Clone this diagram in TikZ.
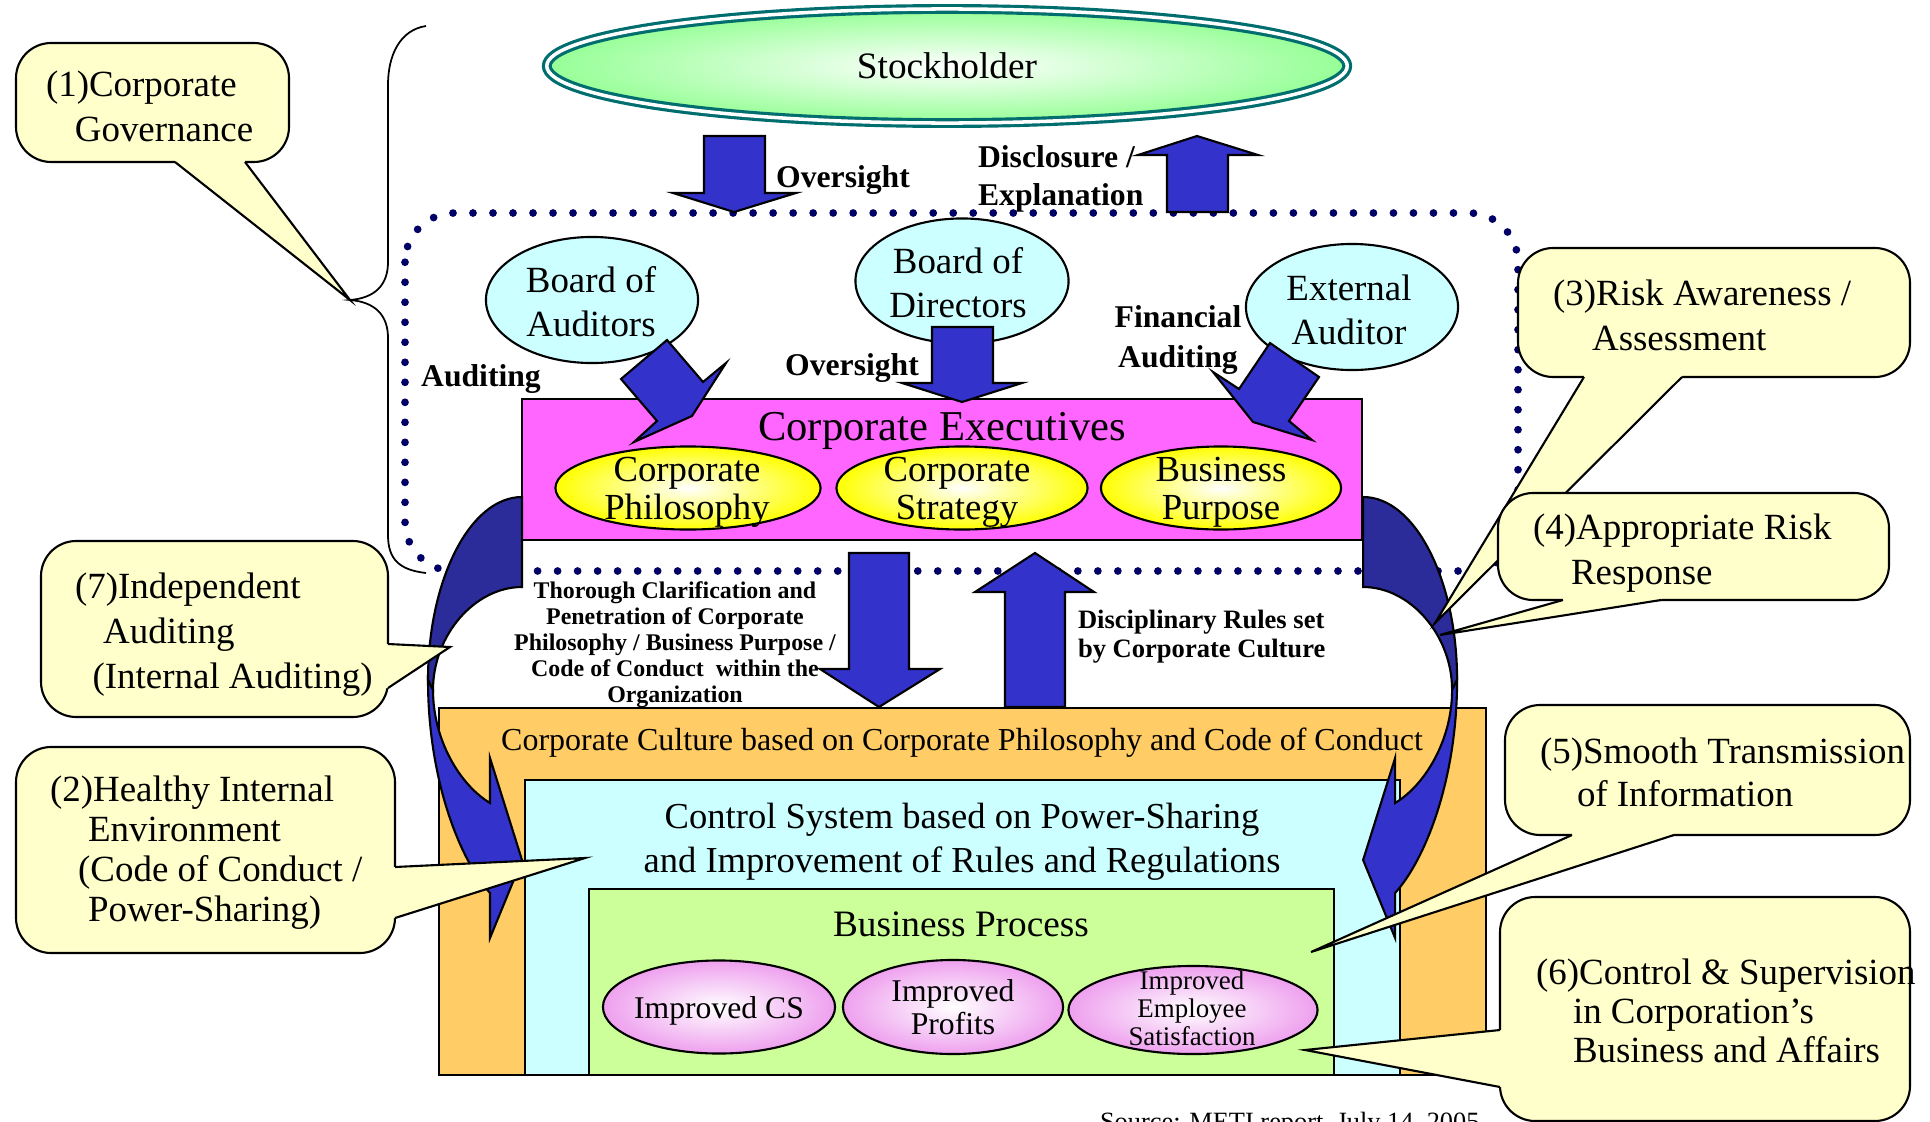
\documentclass[tikz,border=0pt]{standalone}
\usepackage{fontspec}
\setmainfont{Liberation Serif}
\usetikzlibrary{shapes.geometric}

\definecolor{arrblue}{RGB}{51,51,204}
\definecolor{arrdark}{RGB}{43,43,153}
\definecolor{dotnavy}{RGB}{0,0,102}
\definecolor{execpink}{RGB}{255,102,255}
\definecolor{cultorange}{RGB}{255,204,102}
\definecolor{ctrlcyan}{RGB}{204,255,255}
\definecolor{procgreen}{RGB}{204,255,153}
\definecolor{noteyellow}{RGB}{255,255,204}
\definecolor{stockgreen}{RGB}{150,255,150}
\definecolor{stockedge}{RGB}{0,110,110}
\definecolor{ellpink}{RGB}{238,160,238}

\begin{document}
\begin{tikzpicture}[x=0.01cm,y=-0.01cm,line width=0.6pt,
  blk/.style={fill=arrblue,draw=black},
  note/.style={fill=noteyellow,draw=black,rounded corners=10pt},
  notetxt/.style={anchor=west,inner sep=0,align=left,font=\fontsize{10.5}{#1}\selectfont},
  txt/.style={inner sep=0,align=center,font=\fontsize{10.5}{12.6}\selectfont},
  lbl/.style={inner sep=0,align=center,font=\bfseries\fontsize{9}{11.1}\selectfont},
  oval/.style={ellipse,draw=black,inner sep=0},
  dots/.style={draw=dotnavy,line width=2.2pt,line cap=round,dash pattern=on 0pt off 5.69pt}]
\useasboundingbox (0,0) rectangle (1930,1121);
\clip (0,0) rectangle (1930,1121);
% 大括号
\draw[line width=0.5pt] (426,26) .. controls (400,30) and (388,55) .. (388,85) -- (388,262)
  .. controls (388,285) and (375,298) .. (350,300) .. controls (375,302) and (388,315) .. (388,338)
  -- (388,535) .. controls (388,560) and (400,570) .. (426,573);
% 点线框
\draw[dots,rounded corners=14pt] (405,213) rectangle (1518,571);
% 股东
\node[oval,minimum width=8cm,minimum height=1.14cm,inner color=white,outer color=stockgreen,
  draw=stockedge,double=white,double distance=1pt,line width=0.9pt,
  font=\fontsize{10.6}{12}\selectfont] (stock) at (947,66) {Stockholder};
% 上方箭头
\draw[blk] (704,136) -- (765,136) -- (765,193) -- (796,193) -- (734,212) -- (673,193) -- (704,193) -- cycle;
\node[lbl] (ovTop) at (843,180) {Oversight};
\draw[blk] (1167,212) -- (1228,212) -- (1228,155) -- (1258,155) -- (1197,136) -- (1138,155) -- (1167,155) -- cycle;
\node[lbl,anchor=west,align=left,font=\bfseries\fontsize{9}{10.8}\selectfont] (discl) at (977,179) {Disclosure /\\Explanation};
% 三个机构
\node[oval,fill=ctrlcyan,minimum width=2.12cm,minimum height=1.26cm] (bAud) at (592,300) {};
\node[txt] (tAud) at (591,302) {Board of\\Auditors};
\node[oval,fill=ctrlcyan,minimum width=2.13cm,minimum height=1.25cm] (bDir) at (962,281) {};
\node[txt] (tDir) at (958,283) {Board of\\Directors};
\node[oval,fill=ctrlcyan,minimum width=2.12cm,minimum height=1.26cm] (bExt) at (1352,307) {};
\node[txt] (tExt) at (1349,310) {External\\Auditor};
% 经营者
\filldraw[fill=execpink] (522,399) rectangle (1362,540);
\node[inner sep=0,font=\fontsize{12.1}{14}\selectfont] (exec) at (942,431) {Corporate Executives};
\node[oval,inner color=white,outer color=yellow,minimum width=2.65cm,minimum height=0.83cm] (ePhil) at (688,488) {};
\node[txt,font=\fontsize{10.45}{10.8}\selectfont] (tPhil) at (687,492) {Corporate\\Philosophy};
\node[oval,inner color=white,outer color=yellow,minimum width=2.51cm,minimum height=0.83cm] (eStrat) at (962,488) {};
\node[txt,font=\fontsize{10.45}{10.8}\selectfont] (tStrat) at (957,492) {Corporate\\Strategy};
\node[oval,inner color=white,outer color=yellow,minimum width=2.4cm,minimum height=0.83cm] (ePurp) at (1221,488) {};
\node[txt,font=\fontsize{10.45}{10.8}\selectfont] (tPurp) at (1221,492) {Business\\Purpose};
% 监督箭头
\draw[blk] (667,340) -- (703,382) -- (726,363) -- (692,416) -- (634,442) -- (657,421) -- (621,379) -- cycle;
\draw[blk] (932,327) -- (993,327) -- (993,383) -- (1022,383) -- (962,402) -- (902,383) -- (932,383) -- cycle;
\draw[blk] (1270,343) -- (1319,377) -- (1289,421) -- (1312,440) -- (1253,422) -- (1213,372) -- (1239,389) -- cycle;
\node[lbl] (lAud) at (481,379) {Auditing};
\node[lbl] (lOv) at (852,368) {Oversight};
\node[lbl] (lFin) at (1178,340) {Financial\\Auditing};
% 企业文化、控制系统、业务流程
\filldraw[fill=cultorange] (439,708) rectangle (1486,1075);
\node[inner sep=0,font=\fontsize{9.1}{11}\selectfont] (cult) at (962,743) {Corporate Culture based on Corporate Philosophy and Code of Conduct};
\filldraw[fill=ctrlcyan] (525,780) rectangle (1400,1075);
\node[txt,font=\fontsize{10.4}{12.5}\selectfont] (ctrl) at (962,842) {Control System based on Power-Sharing\\and Improvement of Rules and Regulations};
\filldraw[fill=procgreen] (589,889) rectangle (1334,1075);
\node[txt,font=\fontsize{10.6}{12}\selectfont] (proc) at (961,924) {Business Process};
\node[oval,inner color=white,outer color=ellpink,minimum width=2.32cm,minimum height=0.93cm] (eCS) at (719,1007) {};
\node[txt,font=\fontsize{9}{9.4}\selectfont] (tCS) at (719,1011) {Improved CS};
\node[oval,inner color=white,outer color=ellpink,minimum width=2.2cm,minimum height=0.94cm] (eProf) at (953,1007) {};
\node[txt,font=\fontsize{9}{9.4}\selectfont] (tProf) at (953,1007) {Improved\\Profits};
\node[oval,inner color=white,outer color=ellpink,minimum width=2.49cm,minimum height=0.88cm] (eEmp) at (1193,1010) {};
\node[txt,font=\fontsize{7.65}{8}\selectfont] (tEmp) at (1192,1008) {Improved\\Employee\\Satisfaction};
% 中间箭头
\draw[blk] (849,553) -- (909,553) -- (909,669) -- (940,669) -- (879,707) -- (820,669) -- (849,669) -- cycle;
\draw[blk] (1005,707) -- (1065,707) -- (1065,592) -- (1094,592) -- (1035,553) -- (975,592) -- (1005,592) -- cycle;
\node[lbl,font=\bfseries\fontsize{6.8}{7.4}\selectfont] (thor) at (675,645) {Thorough Clarification and\\Penetration of Corporate\\Philosophy / Business Purpose /\\Code of Conduct\ \ within the\\Organization};
\node[lbl,anchor=west,align=left,font=\bfseries\fontsize{7.55}{8.25}\selectfont] (disc) at (1077,637) {Disciplinary Rules set\\by Corporate Culture};
% 弯箭头
\filldraw[fill=arrdark] (522,497) .. controls (470,497) and (428,580) .. (428,680) -- (433,690) .. controls (433,635) and (475,587) .. (522,587) -- cycle;
\filldraw[fill=arrblue] (428,680) .. controls (428,780) and (460,860) .. (490,893) -- (490,938) -- (522,860) -- (490,758) -- (490,803) .. controls (460,785) and (433,740) .. (433,690) -- cycle;
\begin{scope}[xshift=18.84cm,xscale=-1]
\filldraw[fill=arrdark] (522,497) .. controls (470,497) and (428,580) .. (428,680) -- (433,690) .. controls (433,635) and (475,587) .. (522,587) -- cycle;
\filldraw[fill=arrblue] (428,680) .. controls (428,780) and (460,860) .. (490,893) -- (490,938) -- (522,860) -- (490,758) -- (490,803) .. controls (460,785) and (433,740) .. (433,690) -- cycle;
\end{scope}
% 说明框 (1)
\draw[note] (16,43) rectangle (289,162);
\fill[noteyellow] (175,154) -- (175,162) -- (350,300) -- (245,162) -- (245,154) -- cycle;
\draw (175,162) -- (350,300) -- (245,162);
\node[notetxt=12.8] (n1) at (45,106) {(1)Corporate\\\hspace*{8.2pt}Governance};
% (7)
\draw[note] (41,541) rectangle (388,717);
\fill[noteyellow] (380,644) -- (388,644) -- (450,647) -- (388,688) -- (380,688) -- cycle;
\draw (388,644) -- (450,647) -- (388,688);
\node[notetxt=12.8] (n7) at (74,635) {(7)Independent\\\hspace*{8pt}Auditing\\\hspace*{5pt}(Internal Auditing)};
% (2)
\draw[note] (16,747) rectangle (395,953);
\fill[noteyellow] (387,867) -- (395,867) -- (585,858) -- (395,918) -- (387,918) -- cycle;
\draw (395,867) -- (585,858) -- (395,918);
\node[notetxt=11.4] (n2) at (49,853) {(2)Healthy Internal\\\hspace*{10.8pt}Environment\\\hspace*{8pt}(Code of Conduct /\\\hspace*{10.8pt}Power-Sharing)};
% (3)
\draw[note] (1518,248) rectangle (1910,377);
\fill[noteyellow] (1584,369) -- (1584,377) -- (1435,623) -- (1682,377) -- (1682,369) -- cycle;
\draw (1584,377) -- (1435,623) -- (1682,377);
\node[notetxt=12.8] (n3) at (1552,315) {(3)Risk Awareness /\\\hspace*{11.1pt}Assessment};
% (4)
\draw[note] (1498,493) rectangle (1889,600);
\fill[noteyellow] (1563,592) -- (1563,600) -- (1440,635) -- (1661,600) -- (1661,592) -- cycle;
\draw (1563,600) -- (1440,635) -- (1661,600);
\node[notetxt=12.8] (n4) at (1532,553) {(4)Appropriate Risk\\\hspace*{10.8pt}Response};
% (5)
\draw[note] (1505,705) rectangle (1910,835);
\fill[noteyellow] (1572,827) -- (1572,835) -- (1311,952) -- (1674,835) -- (1674,827) -- cycle;
\draw (1572,835) -- (1311,952) -- (1674,835);
\node[notetxt=12.2] (n5) at (1539,772) {(5)Smooth Transmission\\\hspace*{10.5pt}of Information};
% (6)
\draw[note] (1500,897) rectangle (1910,1121);
\fill[noteyellow] (1508,1030) -- (1500,1030) -- (1305,1050) -- (1500,1087) -- (1508,1087) -- cycle;
\draw (1500,1030) -- (1305,1050) -- (1500,1087);
\node[notetxt=11.1] (n6) at (1535,1011) {(6)Control \& Supervision\\\hspace*{10.5pt}in Corporation's\\\hspace*{10.5pt}Business and Affairs};
% 出处
\node[anchor=base west,inner sep=0,font=\fontsize{7.5}{9}\selectfont] (src) at (1099,1130) {Source: METI report, July 14, 2005};
\end{tikzpicture}
\end{document}
